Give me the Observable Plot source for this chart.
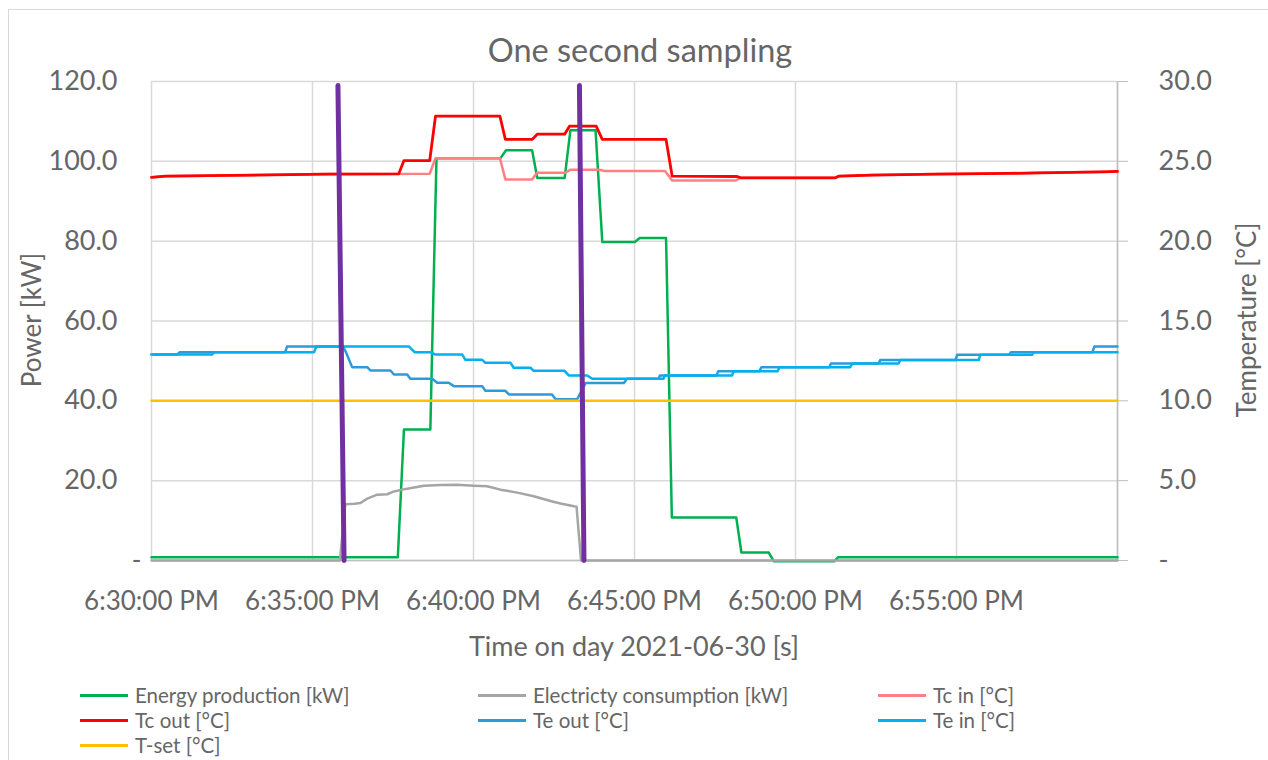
<!DOCTYPE html>
<html>
<head>
<meta charset="utf-8">
<script src="https://cdn.jsdelivr.net/npm/d3@7"></script>
<script src="https://cdn.jsdelivr.net/npm/@observablehq/plot@0.6"></script>
<style>
  html, body { margin: 0; padding: 0; background: #fff; overflow: hidden; }
  #page { position: relative; width: 1268px; height: 760px; font-family: Lato, "Open Sans", sans-serif; color: #666666; }
  #frame { position: absolute; left: 8px; top: 9px; width: 1400px; height: 900px; border-left: 1.5px solid #D9D9D9; border-top: 1.5px solid #D9D9D9; }
  #chart { position: absolute; left: 0; top: 0; }
  .t { position: absolute; white-space: nowrap; line-height: 1; }
  .legend-item { position: absolute; display: flex; align-items: center; font-size: 20.5px; white-space: nowrap; }
  .legend-item .sw { width: 48px; height: 3px; margin-right: 7px; }
</style>
</head>
<body>
<div id="page">
  <div id="frame"></div>
  <div id="chart"></div>
  <div class="t" id="title" style="font-size:32.5px; left:640px; top:50px; transform:translate(-50%,-50%);">One second sampling</div>
  <div class="t" id="ytitle" style="font-size:26px; left:31px; top:320px; transform:translate(-50%,-50%) rotate(-90deg);">Power [kW]</div>
  <div class="t" id="y2title" style="font-size:26px; left:1246px; top:320px; transform:translate(-50%,-50%) rotate(-90deg);">Temperature [°C]</div>
  <div class="t" id="xtitle" style="font-size:27px; left:634px; top:645px; transform:translate(-50%,-50%);">Time on day 2021-06-30 [s]</div>
  <div id="legend"></div>
</div>
<script>
// ---- data (time in minutes after 6:30:00 PM) ----
const xTickMinutes = [0, 5, 10, 15, 20, 25];
const xTickLabels = ["6:30:00 PM", "6:35:00 PM", "6:40:00 PM", "6:45:00 PM", "6:50:00 PM", "6:55:00 PM"];
const powerTicks = [0, 20, 40, 60, 80, 100, 120];
const tempTicks = [0, 5, 10, 15, 20, 25, 30];

const energyProduction = [[0,0.8],[7.65,0.8],[7.84,32.8],[8.66,32.8],[8.85,100.8],[10.84,100.8],[11.01,102.8],[11.82,102.8],[11.98,95.8],[12.83,95.8],[13.01,107.8],[13.79,107.8],[14.0,79.8],[15.01,79.8],[15.16,80.8],[15.98,80.8],[16.16,10.8],[18.16,10.8],[18.32,2.0],[19.17,2.0],[19.33,-0.2],[21.2,-0.2],[21.32,0.8],[30,0.8]];

const electricityConsumption = [[0,0],[5.85,0],[6.02,14.1],[6.30,14.2],[6.49,14.4],[6.70,15.5],[7.01,16.5],[7.32,16.6],[7.53,17.3],[7.94,18.0],[8.46,18.75],[8.98,18.9],[9.49,19.0],[10.01,18.75],[10.42,18.6],[10.84,17.75],[11.36,17.0],[11.87,16.1],[12.39,14.9],[12.70,14.3],[13.12,13.6],[13.20,13.5],[13.34,0],[30,0]];

const tcIn = [[0,24.0],[0.43,24.07],[2.45,24.12],[4.32,24.17],[5.46,24.2],[8.64,24.22],[8.82,25.2],[10.82,25.2],[10.99,23.87],[11.82,23.87],[11.98,24.28],[12.83,24.28],[13.01,24.47],[13.9,24.47],[14.08,24.39],[15.95,24.39],[16.17,23.8],[18.15,23.8],[18.29,23.97],[21.24,23.97],[21.34,24.07],[22.38,24.14],[24.4,24.2],[26.57,24.24],[27.6,24.28],[29.57,24.34],[30,24.37]];

const tcOut = [[0,24.0],[0.43,24.07],[2.45,24.12],[4.32,24.17],[5.46,24.2],[7.68,24.22],[7.84,25.05],[8.64,25.05],[8.82,27.83],[10.82,27.83],[10.99,26.37],[11.82,26.37],[11.98,26.7],[12.83,26.7],[12.98,27.2],[13.81,27.2],[14.0,26.37],[15.98,26.37],[16.17,24.07],[18.19,24.05],[18.29,23.97],[21.24,23.97],[21.34,24.07],[22.38,24.14],[24.4,24.2],[26.57,24.24],[27.6,24.28],[29.57,24.34],[30,24.37]];

const teOut = [[0,12.9],[0.80,12.9],[0.88,13.05],[4.15,13.05],[4.21,13.4],[5.95,13.4],[6.05,13.0],[6.23,12.11],[6.70,12.11],[6.80,11.9],[7.42,11.9],[7.53,11.65],[7.94,11.65],[8.04,11.38],[8.72,11.38],[8.87,11.13],[9.23,11.13],[9.39,10.92],[10.27,10.92],[10.37,10.63],[10.99,10.63],[11.10,10.4],[12.44,10.4],[12.55,10.1],[13.22,10.1],[13.48,11.11],[14.67,11.11],[14.77,11.38],[15.75,11.38],[15.79,11.59],[17.55,11.59],[17.60,11.86],[18.88,11.86],[18.94,12.1],[21.05,12.1],[21.1,12.34],[22.58,12.34],[22.63,12.55],[24.97,12.55],[25.02,12.88],[26.64,12.88],[26.69,13.05],[29.22,13.05],[29.28,13.4],[30,13.4]];

const teIn = [[0,12.9],[1.88,12.9],[1.96,13.05],[5.05,13.05],[5.12,13.4],[8.0,13.4],[8.17,13.05],[8.66,13.05],[8.82,12.9],[9.65,12.9],[9.75,12.57],[10.27,12.57],[10.37,12.38],[11.15,12.38],[11.25,12.07],[11.77,12.07],[11.87,11.88],[12.83,11.88],[12.96,11.59],[13.53,11.59],[13.69,11.38],[15.90,11.38],[15.94,11.59],[18.03,11.59],[18.08,11.86],[19.45,11.86],[19.50,12.1],[21.7,12.1],[21.76,12.34],[23.2,12.34],[23.25,12.55],[25.69,12.55],[25.74,12.88],[27.35,12.88],[27.40,13.05],[30,13.05]];

const tSet = [[0,10],[30,10]];

// hand-drawn purple markers (in power units)
const markerA = [[5.79,119],[5.98,0]];
const markerB = [[13.29,119],[13.43,0]];

const seriesNames = ["Energy production [kW]","Electricty consumption [kW]","Tc in [°C]","Tc out [°C]","Te out [°C]","Te in [°C]","T-set [°C]"];
const seriesColors = ["#00B050","#A5A5A5","#FF8080","#FF0000","#2E9BD9","#00B0F0","#FFC000"];

// ---- chart ----
const K = 120 / 30; // temperature -> power axis factor
const pw = arr => arr.map(([t, v]) => ({t, v}));
const tp = arr => arr.map(([t, v]) => ({t, v: v * K}));
const lineOpts = (c, w = 2.5) => ({x: "t", y: "v", stroke: c, strokeWidth: w, strokeLinejoin: "round"});
const TXT = "#666666";

const chart = Plot.plot({
  width: 1268,
  height: 640,
  marginLeft: 151,
  marginRight: 151,
  marginTop: 81,
  marginBottom: 80,
  style: {fontFamily: "Lato, 'Open Sans', sans-serif", fontSize: "26px", color: TXT, background: "transparent"},
  x: {domain: [0, 30], type: "linear"},
  y: {domain: [0, 120]},
  marks: [
    Plot.gridY(powerTicks, {stroke: "#D9D9D9", strokeOpacity: 1, strokeWidth: 1.5}),
    Plot.gridX([...xTickMinutes, 30], {stroke: "#D9D9D9", strokeOpacity: 1, strokeWidth: 1.5}),
    Plot.ruleX([30], {stroke: "#BFBFBF", strokeWidth: 1.5}),
    Plot.ruleY([0], {stroke: "#BFBFBF", strokeWidth: 1.5}),
    Plot.axisX(xTickMinutes, {tickSize: 0, tickPadding: 31, tickFormat: (d, i) => xTickLabels[i], label: null, fill: TXT}),
    Plot.axisY(powerTicks.filter(d => d !== 0), {anchor: "left", tickSize: 0, tickPadding: 34, tickFormat: d => d.toFixed(1), label: null, fill: TXT, fontSize: 27}),
    Plot.axisY([0], {anchor: "left", tickSize: 0, tickPadding: 10, tickFormat: () => "-", label: null, fill: TXT}),
    Plot.axisY(tempTicks.map(d => d * K), {anchor: "right", tickSize: 10, tickPadding: 31, stroke: "#BFBFBF", tickFormat: d => d === 0 ? "-" : (d / K).toFixed(1), label: null, fill: TXT, fontSize: 27}),
    Plot.line(pw(energyProduction), lineOpts(seriesColors[0])),
    Plot.line(pw(electricityConsumption), lineOpts(seriesColors[1])),
    Plot.line(tp(tcIn), lineOpts(seriesColors[2])),
    Plot.line(tp(tcOut), lineOpts(seriesColors[3], 2.8)),
    Plot.line(tp(teOut), lineOpts(seriesColors[4])),
    Plot.line(tp(teIn), lineOpts(seriesColors[5])),
    Plot.line(tp(tSet), lineOpts(seriesColors[6])),
    Plot.line(pw(markerA), lineOpts("#7030A0", 5)),
    Plot.line(pw(markerB), lineOpts("#7030A0", 5))
  ]
});
document.getElementById("chart").appendChild(chart);

// ---- legend ----
const legendCols = [80, 478, 878];
const legendRows = [695, 720, 745];
const legend = document.getElementById("legend");
seriesNames.forEach((name, i) => {
  const item = document.createElement("div");
  item.className = "legend-item";
  item.style.left = legendCols[i % 3] + "px";
  item.style.top = (legendRows[Math.floor(i / 3)] - 12) + "px";
  item.style.height = "24px";
  const sw = document.createElement("span");
  sw.className = "sw";
  sw.style.background = seriesColors[i];
  const label = document.createElement("span");
  label.textContent = name;
  item.appendChild(sw);
  item.appendChild(label);
  legend.appendChild(item);
});
</script>
</body>
</html>
